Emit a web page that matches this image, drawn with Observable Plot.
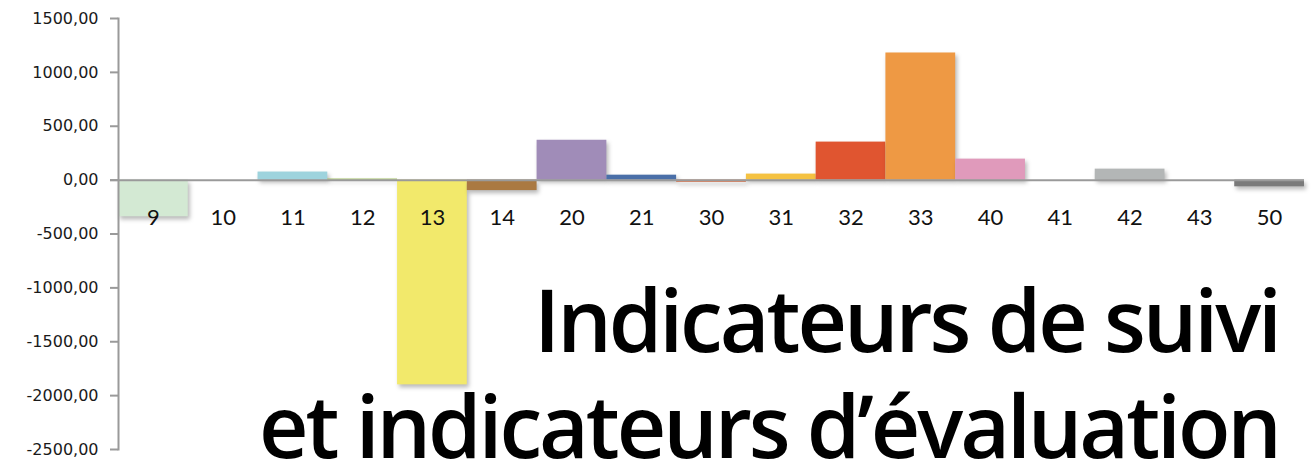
<!DOCTYPE html>
<html>
<head>
<meta charset="utf-8">
<script src="https://cdn.jsdelivr.net/npm/d3@7"></script>
<script src="https://cdn.jsdelivr.net/npm/@observablehq/plot@0.6"></script>
<style>
  html, body { margin: 0; padding: 0; background: #fff; }
  #chart { position: relative; width: 1314px; height: 464px; }
</style>
</head>
<body>
<div id="chart"></div>
<script>
const categories = ["9","10","11","12","13","14","20","21","30","31","32","33","40","41","42","43","50"];
const values     = [-340, 0, 75, 10, -1900, -97, 370, 46, -20, 56, 353, 1180, 195, 0, 102, 0, -62];
const colors     = ["#d3e9d3","#9bbb59","#9ed3dd","#9bbb59","#f2e96b","#aa7942","#a08cb8","#4a6fa8",
                    "#d9653a","#f5c242","#e05530","#ee9944","#e09abb","#8fb4d8","#b3b6b6","#9a9a9a","#7a7a7a"];
const yTicks     = [1500, 1000, 500, 0, -500, -1000, -1500, -2000, -2500];
const titleLines = ["Indicateurs de suivi", "et indicateurs d\u2019évaluation"];

const data = categories.map((c, i) => ({cat: c, value: values[i]}));
const fmt = d3.formatLocale({decimal: ",", thousands: "", grouping: [3], currency: ["", ""], minus: "-"}).format(".2f");

const tickFont = "'DejaVu Sans', sans-serif";
const catFont = "Lato, 'Open Sans', sans-serif";

const plot = Plot.plot({
  width: 1314,
  height: 464,
  marginLeft: 118,
  marginRight: 10,
  marginTop: 18,
  marginBottom: 15,
  style: {background: "#fff", fontFamily: tickFont, fontSize: "16px"},
  x: {domain: categories, padding: 0, round: false, axis: null},
  y: {domain: [-2500, 1500], axis: null},
  color: {domain: categories, range: colors},
  marks: [
    Plot.barY(data, {x: "cat", y: "value", fill: "cat", insetLeft: 0, insetRight: 0}),
    Plot.ruleY([0], {stroke: "#9a9a9a", strokeWidth: 2, insetLeft: -8}),
    Plot.frame({anchor: "left", stroke: "#9a9a9a", strokeWidth: 2}),
    Plot.axisY({ticks: yTicks, tickSize: 8, tickPadding: 12, tickFormat: fmt,
                stroke: "#9a9a9a", strokeWidth: 2, fill: "#1a1a1a", fontSize: 16,
                fontFamily: tickFont, label: null}),
    Plot.text(categories, {x: d => d, y: () => 0, text: d => d, dy: 38,
                           fontSize: 22, fill: "#111", fontFamily: catFont})
  ]
});

document.getElementById("chart").appendChild(plot);

// soft drop shadow like the original bars
plot.querySelectorAll('g[aria-label="bar"] rect').forEach(r => {
  r.style.filter = "drop-shadow(2px 3px 2px rgba(0,0,0,0.28))";
});

// big title overlaid on the lower right
const svg = d3.select(plot);
const tg = svg.append("g").attr("aria-label", "title")
  .attr("font-family", "'Open Sans', sans-serif")
  .attr("font-weight", 600)
  .attr("fill", "#000")
  .attr("text-anchor", "end");
const titleBase = [352, 458];
const titleWidth = [745, 1020];
titleLines.forEach((t, i) => {
  const txt = tg.append("text")
    .attr("x", 1282)
    .attr("y", titleBase[i])
    .attr("font-size", 86)
    .text(t);
  const natural = txt.node().getComputedTextLength();
  const n = t.length;
  const ls = (titleWidth[i] - natural) / n;
  txt.attr("letter-spacing", ls.toFixed(2) + "px");
  txt.attr("dx", ls.toFixed(2));
});
</script>
</body>
</html>
